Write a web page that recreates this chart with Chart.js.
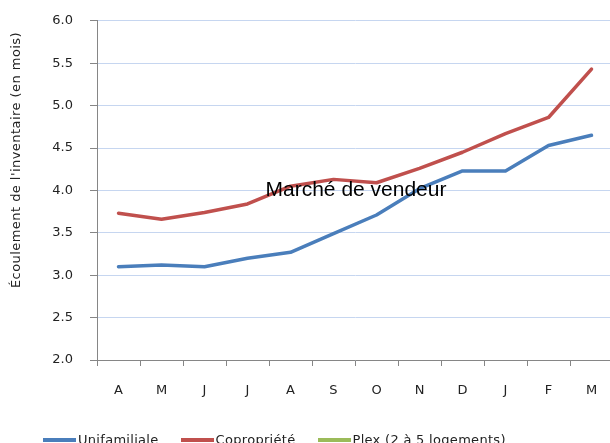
<!DOCTYPE html>
<html>
<head>
<meta charset="utf-8">
<script src="https://cdn.jsdelivr.net/npm/chart.js@4/dist/chart.umd.min.js"></script>
<style>
  html, body { margin: 0; padding: 0; background: #fff; overflow: hidden; }
  #wrap { position: relative; width: 616px; height: 443px; }
  #chart { position: absolute; left: 0; top: -4px; }
  #legend { position: absolute; left: 43px; top: 432px; display: flex; letter-spacing: 0.3px;
            font: 13px "DejaVu Sans", sans-serif; color: #222; white-space: nowrap; }
  .item { display: flex; align-items: center; margin-right: 22px; }
  .swatch { width: 33px; height: 4px; margin-right: 2px; }
</style>
</head>
<body>
<div id="wrap">
  <canvas id="chart" width="616" height="447"></canvas>
  <div id="legend"></div>
</div>
<script>
const months = ["A", "M", "J", "J", "A", "S", "O", "N", "D", "J", "F", "M"];
const unifamiliale = [3.10, 3.12, 3.10, 3.20, 3.27, 3.49, 3.71, 4.02, 4.23, 4.23, 4.53, 4.65];
const copropriete = [3.73, 3.66, 3.74, 3.84, 4.05, 4.13, 4.09, 4.26, 4.45, 4.67, 4.86, 5.43];
const plex = [];
const seriesNames = ["Unifamiliale", "Copropriété", "Plex (2 à 5 logements)"];
const seriesColors = ["#4a7ebb", "#c0504d", "#9bbb59"];
const yTitle = "Écoulement de l'inventaire (en mois)";
const note = "Marché de vendeur";

const gray = "#868686";

// y title and the "Marché de vendeur" note
const textPlugin = {
  id: "texts",
  afterDatasetsDraw(chart) {
    const ctx = chart.ctx;
    const area = chart.chartArea;
    ctx.save();
    ctx.fillStyle = "#000";
    ctx.font = '21px "Liberation Sans", Arial, sans-serif';
    ctx.textAlign = "center";
    ctx.textBaseline = "middle";
    ctx.fillText(note, (area.left + area.right) / 2 + 1, chart.scales.y.getPixelForValue(4.0));

    ctx.translate(17, 164);
    ctx.rotate(-Math.PI / 2);
    ctx.fillStyle = "#222";
    ctx.font = '13px "DejaVu Sans", sans-serif';
    ctx.letterSpacing = "0.45px";
    ctx.fillText(yTitle, 0, 0);
    ctx.restore();
  }
};

const data = [unifamiliale, copropriete, plex];
const chart = new Chart(document.getElementById("chart"), {
  type: "line",
  data: {
    labels: months,
    datasets: data.map((d, i) => ({
      label: seriesNames[i],
      data: d,
      borderColor: seriesColors[i],
      backgroundColor: seriesColors[i],
      borderWidth: 3.5,
      pointRadius: 0,
      tension: 0,
      borderJoinStyle: "round",
      borderCapStyle: "round",
      fill: false
    }))
  },
  options: {
    responsive: false,
    animation: false,
    layout: { padding: { top: 16, right: 3, bottom: 0, left: 0 } },
    plugins: {
      legend: { display: false },
      tooltip: { enabled: false }
    },
    scales: {
      x: {
        offset: true,
        afterFit(scale) { scale.height = 83; },
        grid: { offset: true, drawOnChartArea: false, tickLength: 6, tickColor: gray },
        border: { color: gray },
        ticks: { color: "#222", padding: 17, font: { family: "DejaVu Sans", size: 13 } }
      },
      y: {
        min: 2,
        max: 6,
        afterFit(scale) { scale.width = 97; },
        grid: { color: "#c6d6f0", tickLength: 7, tickColor: gray },
        border: { color: gray },
        ticks: {
          stepSize: 0.5,
          color: "#222",
          padding: 17,
          font: { family: "DejaVu Sans", size: 13 },
          callback: v => v.toFixed(1)
        }
      }
    }
  },
  plugins: [textPlugin]
});

// legend built from the series names and colours
const legend = document.getElementById("legend");
seriesNames.forEach((name, i) => {
  const item = document.createElement("div");
  item.className = "item";
  item.innerHTML = `<span class="swatch" style="background:${seriesColors[i]}"></span>${name}`;
  legend.appendChild(item);
});
</script>
</body>
</html>
